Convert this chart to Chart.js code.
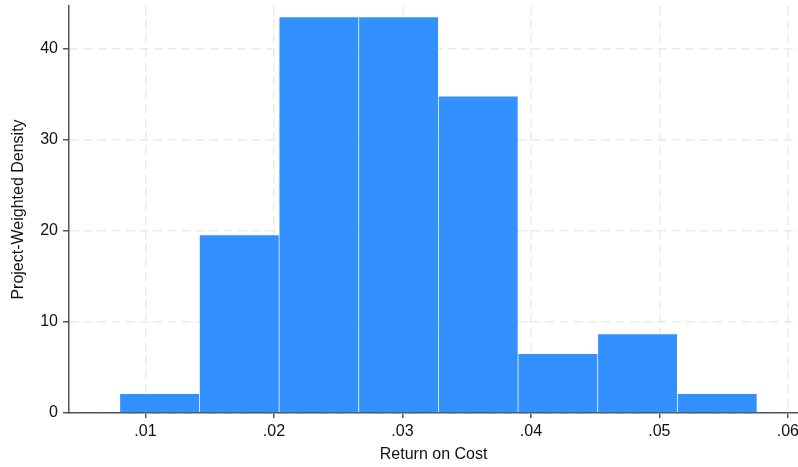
<!DOCTYPE html>
<html>
<head>
<meta charset="utf-8">
<script src="https://cdn.jsdelivr.net/npm/chart.js@4"></script>
<style>
  html, body { margin: 0; padding: 0; background: #fff; overflow: hidden; }
  #wrap { width: 803px; height: 467px; }
</style>
</head>
<body>
<div id="wrap"><canvas id="hist"></canvas></div>
<script>
// Histogram bins (centres of equal-width bins) and project-weighted density
const binCenters = [0.0111, 0.0173, 0.0235, 0.0297, 0.0359, 0.0421, 0.0483, 0.0545];
const density = [2.13, 19.56, 43.5, 43.5, 34.8, 6.52, 8.7, 2.13];
const xTicks = [0.01, 0.02, 0.03, 0.04, 0.05, 0.06];
const yTicks = [0, 10, 20, 30, 40];

const barBlue = '#3391ff';
const gridGrey = '#ebebeb';
const axisGrey = '#555555';
const tickFont = { family: '"Liberation Sans", Arial, sans-serif', size: 16 };
const titleFont = { family: '"Liberation Sans", Arial, sans-serif', size: 16 };

new Chart(document.getElementById('hist'), {
  type: 'bar',
  data: {
    datasets: [{
      label: 'Density',
      data: binCenters.map((x, i) => ({ x, y: density[i] })),
      backgroundColor: barBlue,
      borderColor: 'rgba(255,255,255,0.28)',
      borderWidth: 0.7,
      borderSkipped: 'bottom',
      barPercentage: 1,
      categoryPercentage: 1
    }]
  },
  options: {
    responsive: true,
    maintainAspectRatio: false,
    animation: false,
    layout: { padding: { top: 6, left: 9, right: 0, bottom: 0 } },
    plugins: { legend: { display: false }, tooltip: { enabled: false } },
    scales: {
      x: {
        type: 'linear',
        min: 0.00405,
        max: 0.0608,
        offset: false,
        afterBuildTicks: s => { s.ticks = xTicks.map(v => ({ value: v })); },
        afterFit: s => { s.height = 54; },
        ticks: {
          color: '#111',
          font: tickFont,
          padding: 4,
          maxRotation: 0,
          callback: v => v.toFixed(2).replace(/^0/, '')
        },
        grid: { offset: false, color: gridGrey, tickColor: axisGrey, tickLength: 5, lineWidth: 1.5 },
        border: { color: axisGrey, width: 1.5, dash: [9, 5] },
        title: { display: true, text: 'Return on Cost', color: '#111', font: titleFont, padding: { top: 2, bottom: 3 } }
      },
      y: {
        min: 0,
        max: 44.7,
        afterBuildTicks: s => { s.ticks = yTicks.map(v => ({ value: v })); },
        afterFit: s => { s.width = 60; s.paddingTop = 0; s.paddingBottom = 0; },
        ticks: { color: '#111', font: tickFont, padding: 5 },
        grid: { color: gridGrey, tickColor: axisGrey, tickLength: 6, lineWidth: 1.5 },
        border: { color: axisGrey, width: 1.5, dash: [9, 5] },
        title: { display: true, text: 'Project-Weighted Density', color: '#111', font: titleFont, padding: { top: 0, bottom: 4 } }
      }
    }
  }
});
</script>
</body>
</html>
